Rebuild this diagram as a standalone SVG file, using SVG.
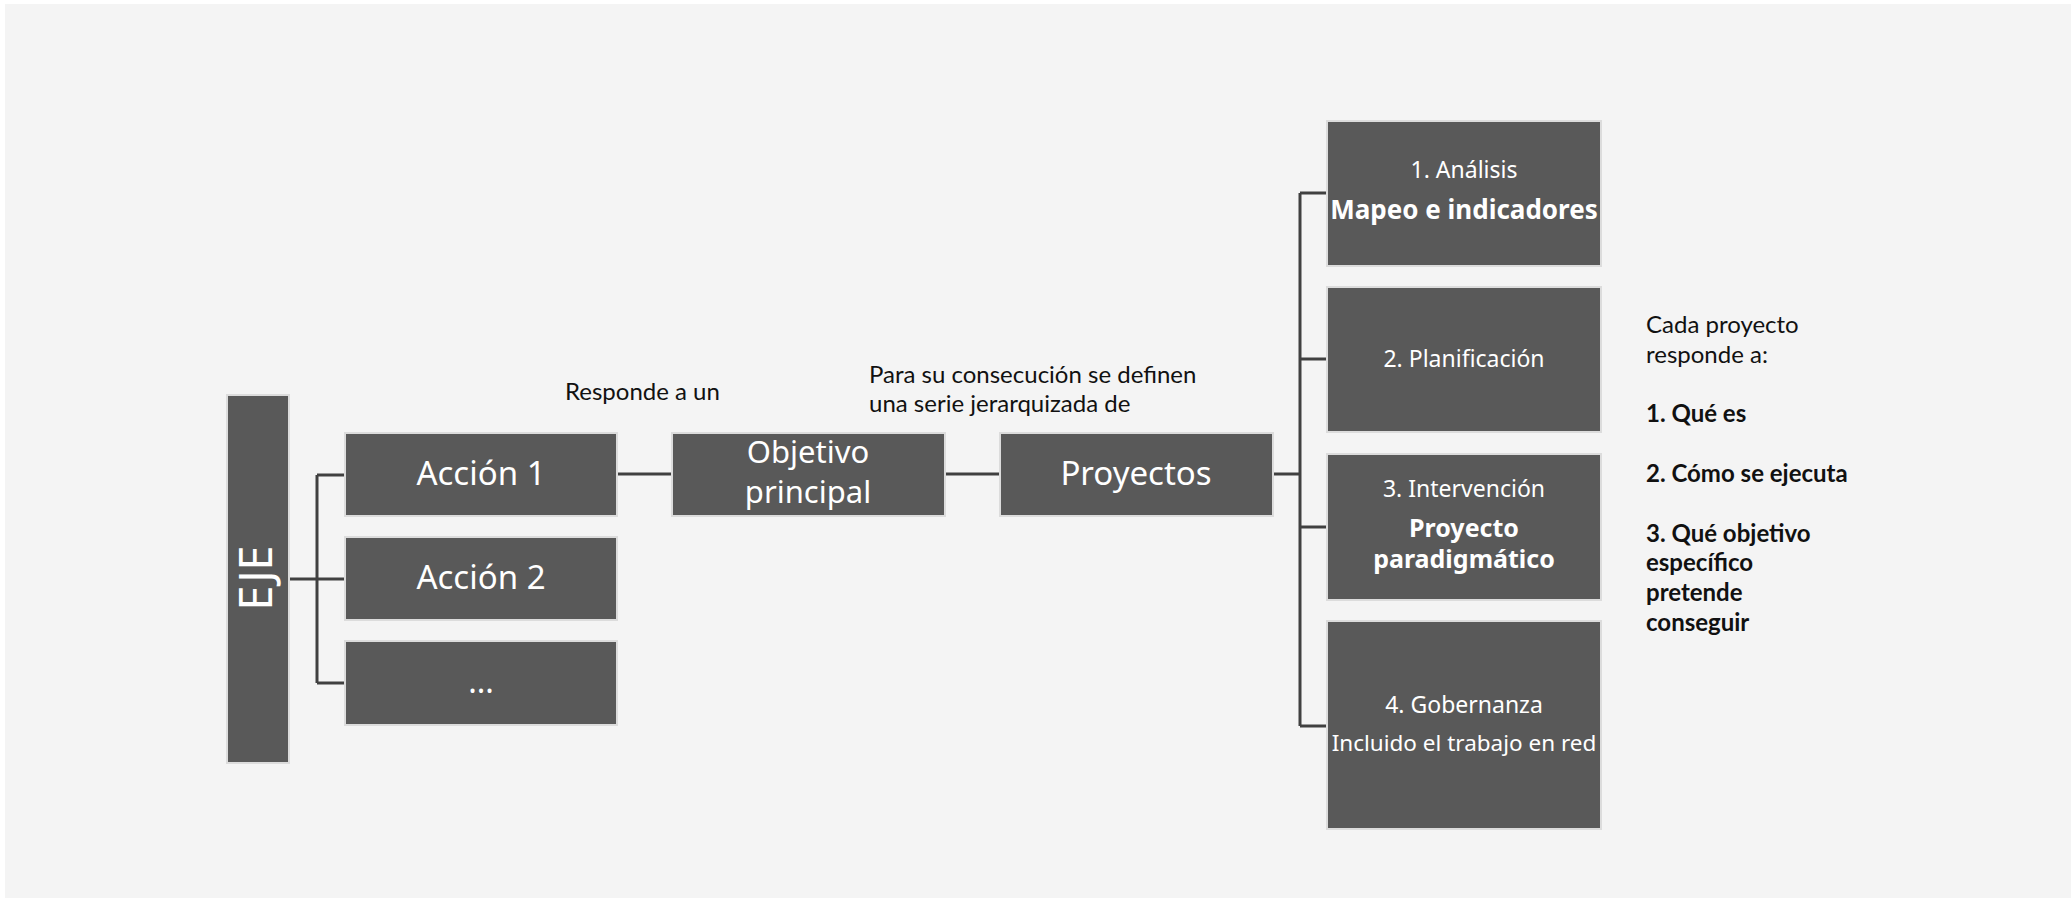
<svg xmlns="http://www.w3.org/2000/svg" width="2071" height="898" viewBox="0 0 2071 898">
<style>
.box{fill:#595959;stroke:#dcdcdc;stroke-width:2}
.conn{fill:none;stroke:#404040;stroke-width:3}
.bt{fill:#ffffff;font-family:"Noto Sans","Open Sans",sans-serif;text-anchor:middle}
.lt{fill:#111111;font-family:Lato,"Liberation Sans",sans-serif;font-size:24px}
.lb{font-weight:bold}
</style>
<rect x="0" y="0" width="2071" height="898" fill="#ffffff"/>
<rect x="5" y="4" width="2066" height="894" fill="#f4f4f4"/>
<g id="connectors">
<path class="conn" d="M290 579 H345 M317 475 V683 M317 475 H345 M317 683 H345"/>
<path class="conn" d="M617 474 H672 M945 474 H1000"/>
<path class="conn" d="M1273 474 H1300 M1300 193 V726 M1300 193 H1327 M1300 359 H1327 M1300 527 H1327 M1300 726 H1327"/>
</g>
<g id="eje">
<rect class="box" x="227" y="395" width="62" height="368"/>
<text class="bt" font-size="45" transform="translate(272,578) rotate(-90)">EJE</text>
</g>
<g id="accion1">
<rect class="box" x="345" y="433" width="272" height="83"/>
<text class="bt" x="481" y="485" font-size="33">Acción 1</text>
</g>
<g id="accion2">
<rect class="box" x="345" y="537" width="272" height="83"/>
<text class="bt" x="481" y="589" font-size="33">Acción 2</text>
</g>
<g id="accion3">
<rect class="box" x="345" y="641" width="272" height="84"/>
<text class="bt" x="481" y="693" font-size="32">...</text>
</g>
<g id="objetivo">
<rect class="box" x="672" y="433" width="273" height="83"/>
<text class="bt" x="808" y="463" font-size="31">Objetivo</text>
<text class="bt" x="808" y="503" font-size="31">principal</text>
</g>
<g id="proyectos">
<rect class="box" x="1000" y="433" width="273" height="83"/>
<text class="bt" x="1136" y="485" font-size="33">Proyectos</text>
</g>
<g id="analisis">
<rect class="box" x="1327" y="121" width="274" height="145"/>
<text class="bt" x="1464" y="178" font-size="23">1. Análisis</text>
<text class="bt lb" x="1464" y="219" font-size="26">Mapeo e indicadores</text>
</g>
<g id="planificacion">
<rect class="box" x="1327" y="287" width="274" height="145"/>
<text class="bt" x="1464" y="367" font-size="23">2. Planificación</text>
</g>
<g id="intervencion">
<rect class="box" x="1327" y="454" width="274" height="146"/>
<text class="bt" x="1464" y="497" font-size="23">3. Intervención</text>
<text class="bt lb" x="1464" y="537" font-size="25">Proyecto</text>
<text class="bt lb" x="1464" y="568" font-size="25">paradigmático</text>
</g>
<g id="gobernanza">
<rect class="box" x="1327" y="621" width="274" height="208"/>
<text class="bt" x="1464" y="713" font-size="23">4. Gobernanza</text>
<text class="bt" x="1464" y="751" font-size="22.5">Incluido el trabajo en red</text>
</g>
<g id="labels">
<text class="lt" x="565" y="400">Responde a un</text>
<text class="lt" x="869" y="383">Para su consecución se definen</text>
<text class="lt" x="869" y="412">una serie jerarquizada de</text>
<text class="lt" x="1646" y="333">Cada proyecto</text>
<text class="lt" x="1646" y="363">responde a:</text>
<text class="lt lb" x="1646" y="422">1. Qué es</text>
<text class="lt lb" x="1646" y="482">2. Cómo se ejecuta</text>
<text class="lt lb" x="1646" y="542">3. Qué objetivo</text>
<text class="lt lb" x="1646" y="571">específico</text>
<text class="lt lb" x="1646" y="601">pretende</text>
<text class="lt lb" x="1646" y="631">conseguir</text>
</g>
</svg>
